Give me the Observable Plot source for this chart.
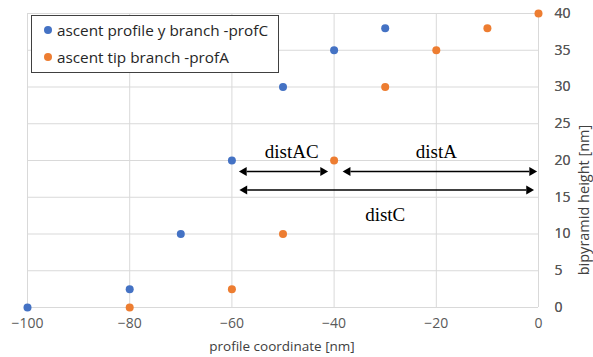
<!DOCTYPE html>
<html><head><meta charset="utf-8">
<script src="https://cdn.jsdelivr.net/npm/d3@7"></script>
<script src="https://cdn.jsdelivr.net/npm/@observablehq/plot@0.6"></script>
<style>
body{margin:0;background:#fff;}
#wrap{position:relative;width:593px;height:357px;font-family:"Open Sans",sans-serif;}
#legend{position:absolute;left:31px;top:15px;width:246px;height:56px;border:1px solid #404040;background:#fff;font-size:15.3px;color:#262626;}
#legend div{position:absolute;left:12px;white-space:nowrap;line-height:18px;}
#legend span{display:inline-block;width:8px;height:8px;border-radius:50%;margin-right:5px;vertical-align:2px;}
</style></head>
<body><div id="wrap"></div>
<script>
const seriesNames = ["ascent profile y branch -profC", "ascent tip branch -profA"];
const colors = ["#4472C4", "#ED7D31"];
const profC_x = [-100, -80, -70, -60, -50, -40, -30];
const profC_y = [0, 2.5, 10, 20, 30, 35, 38];
const profA_x = [-80, -60, -50, -40, -30, -20, -10, 0];
const profA_y = [0, 2.5, 10, 20, 30, 35, 38, 40];
const xTicks = [-100, -80, -60, -40, -20, 0];
const yTicks = [0, 5, 10, 15, 20, 25, 30, 35, 40];
const arrowX1 = [-58.3, -38, -58.2];
const arrowX2 = [-41.5, -0.6, -1.2];
const arrowY = [18.5, 18.5, 16];
const labelText = ["distAC", "distA", "distC"];
const labelX = [-48.3, -20, -30];
const labelY = [21.2, 21.2, 12.6];

const points = [
  ...profC_x.map((x, i) => ({x, y: profC_y[i], s: seriesNames[0]})),
  ...profA_x.map((x, i) => ({x, y: profA_y[i], s: seriesNames[1]}))
];
const arrows = arrowX1.map((x1, i) => ({x1, x2: arrowX2[i], y: arrowY[i]}));
const labels = labelText.map((t, i) => ({t, x: labelX[i], y: labelY[i]}));

const chart = Plot.plot({
  width: 593, height: 357,
  marginLeft: 27, marginRight: 55, marginTop: 13, marginBottom: 50,
  style: {fontFamily: "'Open Sans', sans-serif", fontSize: "14px", color: "#595959", background: "#fff"},
  x: {domain: [-100, 0], ticks: xTicks, tickSize: 0, tickPadding: 11, label: null, tickFormat: d => d},
  y: {domain: [0, 40], ticks: yTicks, tickSize: 0, tickPadding: 16, label: null, axis: "right"},
  color: {domain: seriesNames, range: colors},
  marks: [
    Plot.gridX(xTicks, {stroke: "#d9d9d9", strokeOpacity: 1}),
    Plot.gridY(yTicks, {stroke: "#d9d9d9", strokeOpacity: 1}),
    Plot.axisY({anchor: "right", ticks: yTicks, tickSize: 0, tickPadding: 16, label: null, textAnchor: "start", fill: "#595959"}),
    Plot.axisX({ticks: xTicks, tickSize: 0, tickPadding: 11, label: null, fill: "#595959"}),
    Plot.link(arrows, {x1: d => d.x1 + 1.2, x2: d => d.x2 - 1.2, y1: "y", y2: "y", stroke: "#000", strokeWidth: 1.5}),
    Plot.dot(arrows, {x: "x1", y: "y", symbol: "triangle2", rotate: -90, r: 4.3, fill: "#000", dx: 3.5}),
    Plot.dot(arrows, {x: "x2", y: "y", symbol: "triangle2", rotate: 90, r: 4.3, fill: "#000", dx: -3.5}),
    Plot.text(labels, {x: "x", y: "y", text: "t", fontFamily: "'Liberation Serif', serif", fontSize: 19, fill: "#000"}),
    Plot.dot(points, {x: "x", y: "y", fill: "s", r: 4})
  ]
});
const wrap = document.getElementById("wrap");
wrap.appendChild(chart);
const svg = d3.select(chart);
svg.append("text").attr("x", 282).attr("y", 351).attr("text-anchor", "middle")
  .attr("fill", "#404040").attr("font-size", 13.5).attr("font-family", "'Open Sans', sans-serif")
  .text("profile coordinate [nm]");
svg.append("text").attr("transform", "translate(589,200) rotate(-90)").attr("text-anchor", "middle")
  .attr("fill", "#404040").attr("font-size", 14.5).attr("font-family", "'Open Sans', sans-serif")
  .text("bipyramid height [nm]");
const lg = document.createElement("div");
lg.id = "legend";
lg.innerHTML = seriesNames.map((n, i) => `<div style="top:${i === 0 ? 5 : 32}px"><span style="background:${colors[i]}"></span>${n}</div>`).join("");
wrap.appendChild(lg);
</script></body></html>
